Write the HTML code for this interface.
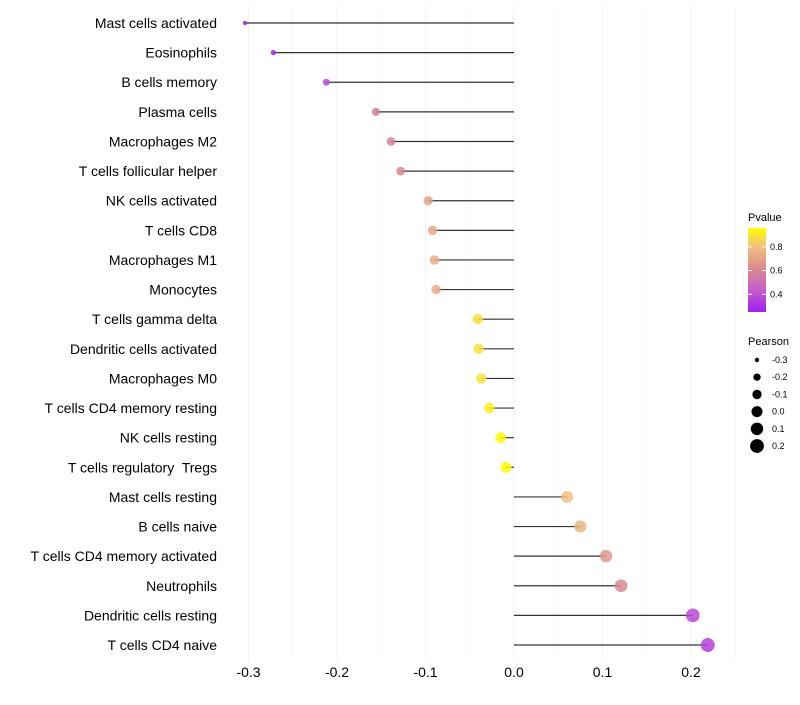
<!DOCTYPE html>
<html><head><meta charset="utf-8"><style>
body{margin:0;background:#fff;font-family:"Liberation Sans",sans-serif}
text{white-space:pre}
</style></head><body>
<svg id="c" width="800" height="700" xmlns="http://www.w3.org/2000/svg">
<defs><linearGradient id="pg" x1="0" y1="1" x2="0" y2="0">
<stop offset="0" stop-color="#a020f0"/><stop offset="0.28" stop-color="#c860c8"/><stop offset="0.5" stop-color="#d88890"/><stop offset="0.78" stop-color="#f0c080"/><stop offset="1" stop-color="#ffff00"/>
</linearGradient></defs>
</svg>
<script>
const categories=["Mast cells activated","Eosinophils","B cells memory","Plasma cells","Macrophages M2","T cells follicular helper","NK cells activated","T cells CD8","Macrophages M1","Monocytes","T cells gamma delta","Dendritic cells activated","Macrophages M0","T cells CD4 memory resting","NK cells resting","T cells regulatory  Tregs","Mast cells resting","B cells naive","T cells CD4 memory activated","Neutrophils","Dendritic cells resting","T cells CD4 naive"];
const pearson=[-0.304,-0.272,-0.212,-0.156,-0.139,-0.128,-0.097,-0.092,-0.090,-0.088,-0.041,-0.040,-0.037,-0.028,-0.015,-0.009,0.060,0.075,0.104,0.121,0.202,0.219];
const pvalue=[0.25,0.27,0.38,0.55,0.58,0.6,0.7,0.72,0.73,0.73,0.88,0.88,0.89,0.92,0.95,0.97,0.8,0.76,0.65,0.6,0.38,0.35];
const xTicks=[-0.3,-0.2,-0.1,0.0,0.1,0.2];
const sizeLegend=[-0.3,-0.2,-0.1,0.0,0.1,0.2];
const pTicks=[0.4,0.6,0.8];
const NS="http://www.w3.org/2000/svg";
const svg=document.getElementById('c');
const x=v=>514+v*885;
const y=i=>23+i*29.62;
const r=v=>Math.sqrt(4+(v+0.31)*45/0.53);
const stops=[[0.25,[160,32,240]],[0.45,[200,96,200]],[0.6,[216,136,144]],[0.8,[240,192,128]],[0.96,[255,255,0]]];
function col(p){if(p<=stops[0][0])return 'rgb('+stops[0][1]+')';for(let k=1;k<stops.length;k++){if(p<=stops[k][0]){const a=stops[k-1],b=stops[k],t=(p-a[0])/(b[0]-a[0]);return 'rgb('+a[1].map((c,j)=>Math.round(c+(b[1][j]-c)*t))+')';}}return 'rgb(255,255,0)';}
function el(t,a,txt){const e=document.createElementNS(NS,t);for(const k in a)e.setAttribute(k,a[k]);if(txt!=null)e.textContent=txt;svg.appendChild(e);return e;}
for(let v=-0.3;v<=0.251;v+=0.05){const g=el('line',{x1:x(v),x2:x(v),y1:5,y2:660,stroke:'#f2f2f2','stroke-width':Math.abs(Math.round(v*20))%2===0?1:0.5});}
xTicks.forEach(v=>{const t=el('text',{x:x(v),y:677,'text-anchor':'middle','font-size':14,fill:'#000'},v.toFixed(1));});
categories.forEach((c,i)=>{
const t=el('text',{x:217,y:y(i)+5,'text-anchor':'end','font-size':14,fill:'#000'},c);

const l=el('line',{x1:x(0),x2:x(pearson[i]),y1:y(i),y2:y(i),stroke:'#000','stroke-opacity':0.8,'stroke-width':1.2});

const d=el('circle',{cx:x(pearson[i]),cy:y(i),r:r(pearson[i]),fill:col(pvalue[i]),'fill-opacity':0.85});

});
let t=el('text',{x:748,y:221,'font-size':11,fill:'#000'},'Pvalue');
let b=el('rect',{x:748,y:228,width:18,height:84,fill:'url(#pg)'});
pTicks.forEach(p=>{const yy=312-(p-0.25)/(0.96-0.25)*84;el('line',{x1:748,x2:752,y1:yy,y2:yy,stroke:'#fff'});el('line',{x1:762,x2:766,y1:yy,y2:yy,stroke:'#fff'});const tt=el('text',{x:770,y:yy+3,'font-size':9,fill:'#000'},p.toFixed(1));});
t=el('text',{x:748,y:345,'font-size':11,fill:'#000'},'Pearson');
sizeLegend.forEach((v,k)=>{const yy=360+k*17.2;const c=el('circle',{cx:757,cy:yy,r:r(v),fill:'#000'});const tt=el('text',{x:772,y:yy+3,'font-size':9,fill:'#000'},v.toFixed(1));});
</script>
</body></html>
